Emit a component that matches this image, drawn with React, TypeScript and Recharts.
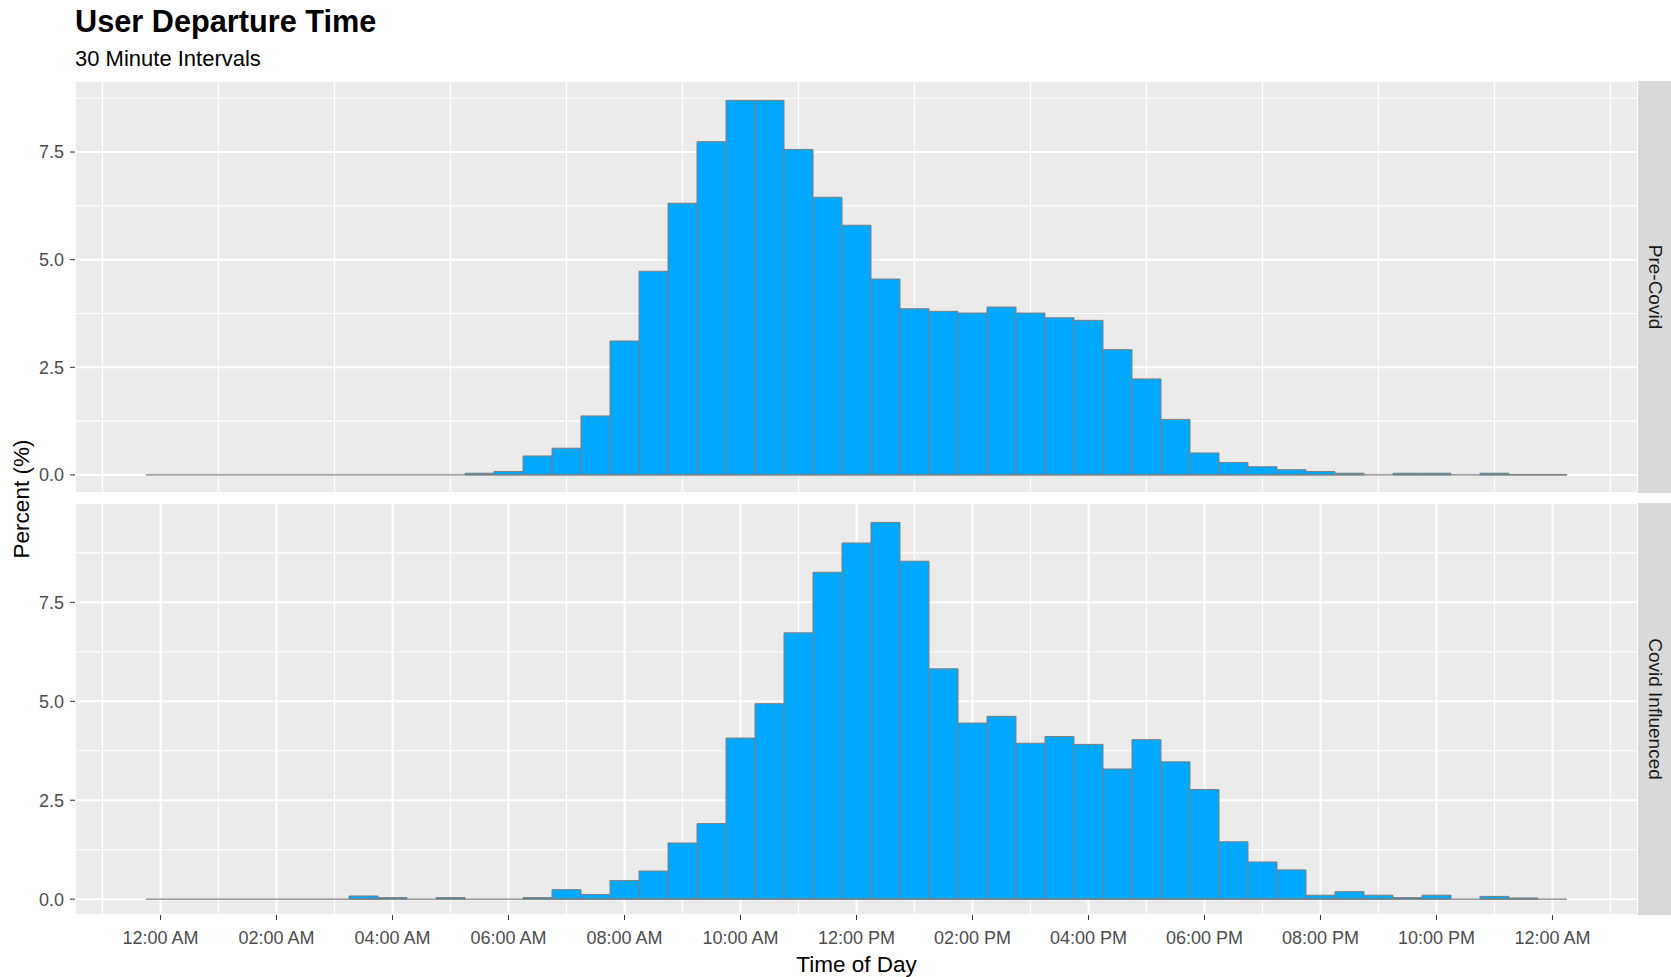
import {
  Bar,
  CartesianGrid,
  ComposedChart,
  ReferenceLine,
  XAxis,
  YAxis,
} from "recharts";

// 30 minute bins, centre of each bin in hours after midnight
const binHours = [
  0, 0.5, 1, 1.5, 2, 2.5, 3, 3.5, 4, 4.5, 5, 5.5, 6, 6.5, 7, 7.5, 8, 8.5, 9, 9.5,
  10, 10.5, 11, 11.5, 12, 12.5, 13, 13.5, 14, 14.5, 15, 15.5, 16, 16.5, 17, 17.5,
  18, 18.5, 19, 19.5, 20, 20.5, 21, 21.5, 22, 22.5, 23, 23.5, 24,
];

const preCovid = [
  0, 0, 0, 0, 0, 0, 0, 0, 0, 0, 0, 0.04, 0.08, 0.44, 0.62, 1.37, 3.11, 4.73, 6.31, 7.74,
  8.7, 8.7, 7.56, 6.45, 5.8, 4.55, 3.86, 3.8, 3.76, 3.9, 3.76, 3.65, 3.59, 2.91, 2.23, 1.29,
  0.51, 0.29, 0.19, 0.12, 0.08, 0.04, 0, 0.04, 0.04, 0, 0.04, 0.01, 0.01,
];

const covidInfluenced = [
  0, 0, 0, 0, 0, 0, 0, 0.08, 0.04, 0, 0.04, 0, 0, 0.04, 0.24, 0.12, 0.47, 0.71, 1.42, 1.91,
  4.07, 4.94, 6.73, 8.26, 9.0, 9.52, 8.54, 5.82, 4.45, 4.62, 3.94, 4.11, 3.91, 3.29, 4.03, 3.47,
  2.77, 1.45, 0.94, 0.74, 0.1, 0.19, 0.1, 0.04, 0.1, 0, 0.07, 0.03, 0,
];

const xTicks = [0, 2, 4, 6, 8, 10, 12, 14, 16, 18, 20, 22, 24];
const xTickLabels = [
  "12:00 AM", "02:00 AM", "04:00 AM", "06:00 AM", "08:00 AM", "10:00 AM", "12:00 PM",
  "02:00 PM", "04:00 PM", "06:00 PM", "08:00 PM", "10:00 PM", "12:00 AM",
];
const xMinor = [-1, 1, 3, 5, 7, 9, 11, 13, 15, 17, 19, 21, 23, 25];
const yTicks = [0, 2.5, 5, 7.5];
const yMinor = [1.25, 3.75, 6.25, 8.75];

const FONT = '"Liberation Sans", Arial, Helvetica, sans-serif';
const PANEL_LEFT = 75;
const PANEL_RIGHT = 1638;
const X_AXIS_H = 46;

const binHalf = (binHours[1] - binHours[0]) / 2;
const histStart = binHours[0] - binHalf;
const histEnd = binHours[binHours.length - 1] + binHalf;
const xPad = (histEnd - histStart) * 0.05;

function Panel({ values, top, height, showX, label, yDomain }: { values: number[]; top: number; height: number; showX: boolean; label: string; yDomain: [number, number] }) {
  const data = binHours.map((h, i) => ({ hour: h, pct: values[i] }));
  const chartH = height + (showX ? X_AXIS_H : 0);
  return (
    <>
      <div style={{ position: "absolute", left: 0, top, width: PANEL_RIGHT, height: chartH }}>
        <ComposedChart
          width={PANEL_RIGHT}
          height={chartH}
          data={data}
          margin={{ top: 0, right: 0, bottom: 0, left: 0 }}
          barCategoryGap={0}
          barGap={0}
        >
          <CartesianGrid fill="#EBEBEB" stroke="#FFFFFF" strokeWidth={2} />
          {xMinor.map((v) => (
            <ReferenceLine key={"x" + v} x={v} stroke="#FFFFFF" strokeWidth={1.1} zIndex={-60} />
          ))}
          {yMinor.map((v) => (
            <ReferenceLine key={"y" + v} y={v} stroke="#FFFFFF" strokeWidth={1.1} zIndex={-60} />
          ))}
          <XAxis
            dataKey="hour"
            type="number"
            domain={[histStart - xPad, histEnd + xPad]}
            allowDataOverflow
            ticks={xTicks}
            interval={0}
            height={showX ? X_AXIS_H : 0}
            tick={showX ? { fill: "#4D4D4D", fontSize: 18 } : false}
            tickLine={showX ? { stroke: "#333333" } : false}
            tickSize={5}
            tickMargin={11}
            axisLine={false}
            tickFormatter={(v: number) => xTickLabels[xTicks.indexOf(v)]}
          />
          <YAxis
            type="number"
            width={PANEL_LEFT}
            domain={yDomain}
            allowDataOverflow
            ticks={yTicks}
            interval={0}
            tick={{ fill: "#4D4D4D", fontSize: 18 }}
            tickLine={{ stroke: "#333333" }}
            tickSize={5}
            tickMargin={6}
            axisLine={false}
            tickFormatter={(v: number) => v.toFixed(1)}
          />
          <Bar dataKey="pct" fill="#00A9FF" stroke="#7F7F7F" strokeWidth={1} isAnimationActive={false} />
          <ReferenceLine
            segment={[{ x: histStart, y: 0 }, { x: histEnd, y: 0 }]}
            stroke="#7F7F7F"
            strokeWidth={1.4}
            zIndex={350}
          />
        </ComposedChart>
      </div>
      <div
        style={{
          position: "absolute",
          left: PANEL_RIGHT,
          top,
          width: 1671 - PANEL_RIGHT,
          height,
          background: "#D9D9D9",
        }}
      >
        <div
          style={{
            position: "absolute",
            left: "50%",
            top: "50%",
            transform: "translate(-50%, -50%) rotate(90deg)",
            whiteSpace: "nowrap",
            fontSize: 19,
            lineHeight: 1,
            color: "#1A1A1A",
          }}
        >
          {label}
        </div>
      </div>
    </>
  );
}

export default function App() {
  return (
    <div
      style={{
        position: "absolute",
        left: 0,
        top: 0,
        width: 1671,
        height: 977,
        background: "#FFFFFF",
        overflow: "hidden",
        fontFamily: FONT,
      }}
    >
      <div style={{ position: "absolute", left: 75, top: 7, fontSize: 30.7, fontWeight: 700, lineHeight: 1, color: "#000" }}>
        User Departure Time
      </div>
      <div style={{ position: "absolute", left: 75, top: 48, fontSize: 22, lineHeight: 1, color: "#000" }}>
        30 Minute Intervals
      </div>

      <Panel values={preCovid} top={81} height={412} showX={false} label="Pre-Covid" yDomain={[-0.42, 9.15]} />
      <Panel values={covidInfluenced} top={503} height={412} showX={true} label="Covid Influenced" yDomain={[-0.4, 10.01]} />

      <div
        style={{
          position: "absolute",
          left: 22,
          top: 499,
          transform: "translate(-50%, -50%) rotate(-90deg)",
          whiteSpace: "nowrap",
          fontSize: 22.5,
          lineHeight: 1,
          color: "#000",
        }}
      >
        Percent (%)
      </div>
      <div
        style={{
          position: "absolute",
          left: (PANEL_LEFT + PANEL_RIGHT) / 2,
          top: 954,
          transform: "translateX(-50%)",
          whiteSpace: "nowrap",
          fontSize: 22.5,
          lineHeight: 1,
          color: "#000",
        }}
      >
        Time of Day
      </div>
    </div>
  );
}
